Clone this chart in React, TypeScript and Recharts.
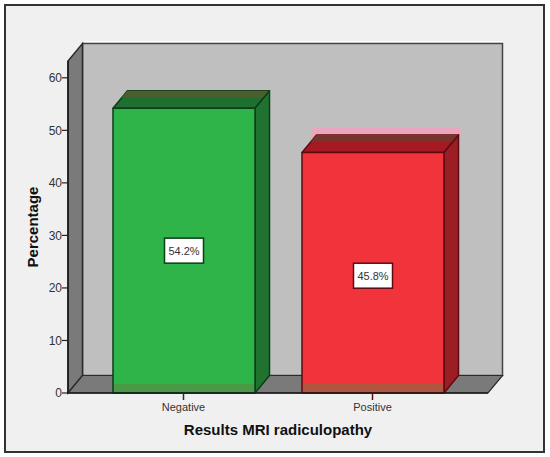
import React from 'react';
import { BarChart, Bar, XAxis, YAxis, Customized, LabelList } from 'recharts';

const categories = ['Negative', 'Positive'];
const percentages = [54.2, 45.8];
const yTicks = [0, 10, 20, 30, 40, 50, 60];

const tableData = categories.map((name, i) => ({ name, value: percentages[i] }));

const W = 550;
const H = 457;
// plot area of the front plane
const M = { top: 61, right: 62, bottom: 64, left: 68 };
const DX = 14.5;
const DY = 17.5;

const palette: Record<string, any> = {
  Negative: { front: '#2fb44a', top: '#1f7030', topBack: '#4a5e2e', side: '#20722f', line: '#0b3d18', tint: '#4a9a45', halo: 'none' },
  Positive: { front: '#f1333b', top: '#a51a22', topBack: '#75352a', side: '#9b1e24', line: '#5e0a10', tint: '#b0563e', halo: '#eaa6bd' },
};

// back wall, left wall and floor of the 3D box
const Walls = () => {
  const x0 = M.left;
  const x1 = W - M.right;
  const y0 = M.top;
  const y1 = H - M.bottom;
  const stroke = '#2b2b2b';
  return (
    <g>
      <line x1={x0 + DX} x2={x1 + DX} y1={y0 - DY - 2} y2={y0 - DY - 2} stroke="#fff" />
      <rect x={x0 + DX} y={y0 - DY} width={x1 - x0} height={y1 - y0} fill="#bfbfbf" stroke="#444" strokeWidth={1.5} />
      <polygon
        points={`${x0},${y0} ${x0 + DX},${y0 - DY} ${x0 + DX},${y1 - DY} ${x0},${y1}`}
        fill="#7a7a7a"
        stroke={stroke}
        strokeWidth={1.5}
      />
      <polygon
        points={`${x0},${y1} ${x0 + DX},${y1 - DY} ${x1 + DX},${y1 - DY} ${x1},${y1}`}
        fill="#7a7a7a"
        stroke={stroke}
        strokeWidth={1.2}
      />
    </g>
  );
};

const Bar3D = (props: any) => {
  const { x, y, width, height, payload } = props;
  const c = palette[payload.name];
  const r = x + width;
  const b = y + height;
  return (
    <g stroke={c.line} strokeWidth={1.5} strokeLinejoin="round">
      <rect x={x + 10} y={y - DY - 7} width={width + DX - 8} height={10} fill={c.halo} stroke="none" />
      <polygon points={`${x},${y} ${x + DX},${y - DY} ${r + DX},${y - DY} ${r},${y}`} fill={c.top} />
      <polygon points={`${x + DX},${y - DY} ${r + DX},${y - DY} ${r + DX - 6},${y - DY + 7} ${x + DX - 6},${y - DY + 7}`} fill={c.topBack} stroke="none" />
      <polygon points={`${r},${y} ${r + DX},${y - DY} ${r + DX},${b - DY} ${r},${b}`} fill={c.side} />
      <rect x={x} y={y} width={width} height={height} fill={c.front} />
      <rect x={x + 1} y={b - 9} width={width - 2} height={8} fill={c.tint} stroke="none" />
    </g>
  );
};

const ValueBox = (props: any) => {
  const { x, y, width, height, value, index } = props;
  const c = palette[categories[index]];
  const cx = x + width / 2;
  const cy = y + height / 2 + (index === 1 ? 3 : 0);
  return (
    <g>
      <rect x={cx - 19.5} y={cy - 12.5} width={39} height={25} fill="#fff" stroke={c.line} strokeWidth={1.5} />
      <text x={cx} y={cy + 4} textAnchor="middle" fontSize={11} fontFamily="Liberation Sans" fill="#333">
        {value}%
      </text>
    </g>
  );
};

const CategoryTick = (props: any) => {
  const { x, y, payload } = props;
  const c = palette[payload.value];
  return (
    <g>
      <line x1={x} x2={x} y1={y} y2={y + 7} stroke={c.line} strokeWidth={1.5} />
      <text x={x} y={y + 18} textAnchor="middle" fontSize={11} fontFamily="Liberation Sans" fill="#333">
        {payload.value}
      </text>
    </g>
  );
};

export default function App() {
  return (
    <div style={{ position: 'absolute', left: 0, top: 0, width: W, height: H, background: '#fff' }}>
      <div
        style={{
          position: 'absolute',
          left: 4,
          top: 4,
          width: 537,
          height: 445,
          background: '#f0f0f0',
          border: '2px solid #333',
        }}
      />
      <div style={{ position: 'absolute', left: 0, top: 0 }}>
        <BarChart
          width={W}
          height={H}
          data={tableData}
          margin={{ top: M.top, right: M.right, bottom: 0, left: 0 }}
          barSize={142}
        >
          <Customized component={<Walls />} />
          <XAxis
            dataKey="name"
            height={M.bottom}
            padding={{ left: 21, right: 21 }}
            tickLine={false}
            tickSize={0}
            tickMargin={0}
            tick={<CategoryTick />}
            axisLine={{ stroke: '#1a1a1a', strokeWidth: 1.5 }}
            interval={0}
            label={{
              value: 'Results MRI radiculopathy',
              position: 'insideBottom',
              offset: 22,
              style: { fontSize: 15, fontWeight: 700, fontFamily: 'Liberation Sans', fill: '#111' },
            }}
          />
          <YAxis
            width={M.left}
            domain={[0, 63.2]}
            ticks={yTicks}
            interval={0}
            tickSize={6}
            tickMargin={0}
            tick={{ fontSize: 12, fontFamily: 'Liberation Sans', fill: '#333' }}
            tickLine={{ stroke: '#222', strokeWidth: 1.2 }}
            axisLine={{ stroke: '#1a1a1a', strokeWidth: 1.5 }}
            label={{
              value: 'Percentage',
              angle: -90,
              position: 'insideLeft',
              dx: 28,
              dy: 0,
              style: { fontSize: 15, fontWeight: 700, fontFamily: 'Liberation Sans', fill: '#111', textAnchor: 'middle' },
            }}
          />
          <Bar dataKey="value" shape={<Bar3D />} isAnimationActive={false}>
            <LabelList dataKey="value" content={<ValueBox />} />
          </Bar>
        </BarChart>
      </div>
    </div>
  );
}
